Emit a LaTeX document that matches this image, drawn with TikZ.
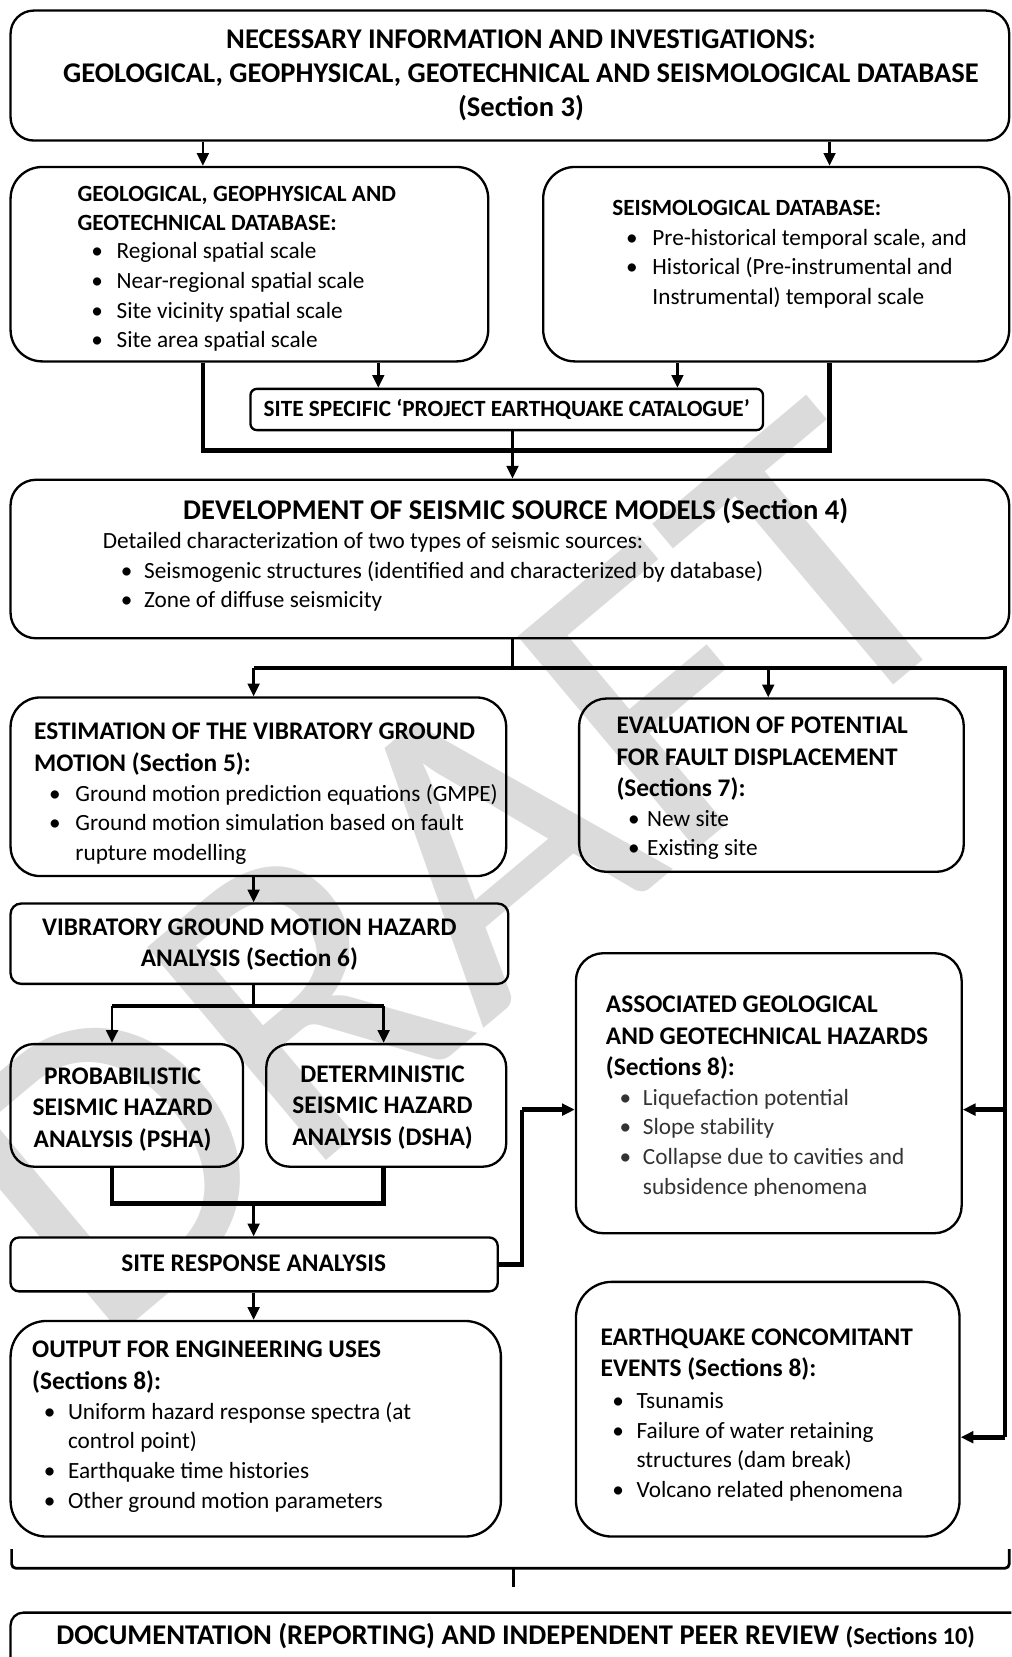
\documentclass[tikz,border=0pt]{standalone}
\usepackage{fontspec}
\setmainfont{Carlito}
\usetikzlibrary{arrows.meta,fit}

\newcommand{\llines}[1]{\begin{tabular}[t]{@{}l@{}}#1\end{tabular}}
\newcommand{\clines}[1]{\begin{tabular}[t]{@{}c@{}}#1\end{tabular}}
\newcommand{\blist}[2]{\begin{tabular}[t]{@{}p{#1}@{}l@{}}#2\end{tabular}}

\tikzset{
        box/.style={draw=black, line width=1.1pt, inner sep=0pt},
        wbox/.style={box, fill=white},
        txt/.style={anchor=base west, inner sep=0pt},
        ctxt/.style={anchor=base, inner sep=0pt},
        hdbig/.style={font=\fontsize{13.5}{16}\selectfont\bfseries},
        hd/.style={font=\fontsize{12}{15}\selectfont\bfseries},
        hdsmall/.style={font=\fontsize{11}{13.5}\selectfont\bfseries},
        body/.style={font=\fontsize{11}{14}\selectfont},
        arr/.style={line width=1.3pt, -{Triangle[length=6pt,width=5.5pt]}},
        barr/.style={line width=2.2pt, -{Triangle[length=6pt,width=5.5pt]}},
        link/.style={line width=1.3pt},
        bus/.style={line width=2.2pt},
        brace/.style={line width=1.3pt, rounded corners=2pt},
        wmark/.style={text=black!14, font=\fontsize{205}{205}\selectfont, inner sep=0pt}
          }

\begin{document}
\begin{tikzpicture}[x=0.5pt, y=-0.5pt]
  \useasboundingbox (0,0) rectangle (957,1568);
  \clip (0,0) rectangle (957,1568);

  % watermark
  \node[wmark, rotate=40] (wm) at (430,825) {DRAFT};

  % columns and levels of the connectors
  \coordinate (xa) at (192,0);
  \coordinate (xb) at (785,0);
  \coordinate (xc) at (358,0);
  \coordinate (xd) at (641,0);
  \coordinate (xe) at (485,0);
  \coordinate (xf) at (240,0);
  \coordinate (xg) at (727,0);
  \coordinate (xh) at (106,0);
  \coordinate (xi) at (363,0);
  \coordinate (xk) at (494,0);
  \coordinate (xr) at (951,0);
  \coordinate (ya) at (0,426);
  \coordinate (yb) at (0,632);
  \coordinate (yc) at (0,952);
  \coordinate (yd) at (0,1139);
  \coordinate (ye) at (0,1050);
  \coordinate (yf) at (0,1360);

  % boxes
  \node[box, rounded corners=11pt, fit={(10,10) (955,133)}] (top) {};
  \node[box, rounded corners=15pt, fit={(10,158) (462,342)}] (ggg) {};
  \node[box, rounded corners=15pt, fit={(514,158) (955,342)}] (seis) {};
  \node[wbox, rounded corners=3pt, fit={(237,368) (722,407)}] (cat) {};
  \node[box, rounded corners=12pt, fit={(10,454) (955,604)}] (dev) {};
  \node[box, rounded corners=14pt, fit={(10,660) (479,829)}] (est) {};
  \node[box, rounded corners=13pt, fit={(548,661) (912,825)}] (eval) {};
  \node[box, rounded corners=5pt, fit={(10,855) (481,931)}] (vgm) {};
  \node[box, rounded corners=11pt, fit={(10,988) (230,1104)}] (psha) {};
  \node[box, rounded corners=11pt, fit={(252,988) (479,1104)}] (dsha) {};
  \node[wbox, rounded corners=4pt, fit={(10,1171) (471,1222)}] (sra) {};
  \node[box, rounded corners=13pt, fit={(545,902) (910,1167)}] (assoc) {};
  \node[wbox, rounded corners=17pt, fit={(10,1250) (474,1454)}] (out) {};
  \node[box, rounded corners=17pt, fit={(545,1213) (908,1454)}] (conc) {};
  \node[box, rounded corners=6pt, fit={(10,1526) (985,1620)}] (doc) {};

  % texts
  \node[ctxt, hdbig] (topT) at (493,46) {\clines{NECESSARY INFORMATION AND INVESTIGATIONS:\\GEOLOGICAL, GEOPHYSICAL, GEOTECHNICAL AND SEISMOLOGICAL DATABASE\\(Section 3)}};

  \node[txt, hdsmall] (gggT) at (73,191) {\llines{GEOLOGICAL, GEOPHYSICAL AND\\GEOTECHNICAL DATABASE:}};
  \node[txt, body] (gggL) at (86,245) {\blist{12pt}{\textbullet & Regional spatial scale\\
    \textbullet & Near-regional spatial scale\\
    \textbullet & Site vicinity spatial scale\\
    \textbullet & Site area spatial scale}};

  \node[txt, hdsmall] (seisT) at (579,204) {SEISMOLOGICAL DATABASE:};
  \node[txt, body] (seisL) at (592,232) {\blist{12.5pt}{\textbullet & Pre-historical temporal scale, and\\
    \textbullet & Historical (Pre-instrumental and\\
    & Instrumental) temporal scale}};

  \node[ctxt, hdsmall] (catT) at (479.5,394) {SITE SPECIFIC ‘PROJECT EARTHQUAKE CATALOGUE’};

  \node[ctxt, hdbig] (devT) at (488,492) {DEVELOPMENT OF SEISMIC SOURCE MODELS (Section 4)};
  \node[txt, body] (devS) at (97,519) {Detailed characterization of two types of seismic sources:};
  \node[txt, body] (devL) at (114,547) {\blist{11pt}{\textbullet & Seismogenic structures (identified and characterized by database)\\
    \textbullet & Zone of diffuse seismicity}};

  \node[txt, hd] (estT) at (32,700) {\llines{ESTIMATION OF THE VIBRATORY GROUND\\MOTION (Section 5):}};
  \node[txt, body] (estL) at (46,758) {\blist{12.5pt}{\textbullet & Ground motion prediction equations (GMPE)\\
    \textbullet & Ground motion simulation based on fault\\
    & rupture modelling}};

  \node[txt, hd] (evalT) at (583,694) {\llines{EVALUATION OF POTENTIAL\\FOR FAULT DISPLACEMENT\\(Sections 7):}};
  \node[txt, body] (evalL) at (594,782) {\blist{9pt}{\textbullet & New site\\
    \textbullet & Existing site}};

  \node[ctxt, hd] (vgmT) at (236,885) {\clines{VIBRATORY GROUND MOTION HAZARD\\ANALYSIS (Section 6)}};
  \node[ctxt, hd] (pshaT) at (116,1026) {\clines{PROBABILISTIC\\SEISMIC HAZARD\\ANALYSIS (PSHA)}};
  \node[ctxt, hd] (dshaT) at (362,1024) {\clines{DETERMINISTIC\\SEISMIC HAZARD\\ANALYSIS (DSHA)}};
  \node[ctxt, hd] (sraT) at (240,1203) {SITE RESPONSE ANALYSIS};

  \node[txt, hd] (assocT) at (573,958) {\llines{ASSOCIATED GEOLOGICAL\\AND GEOTECHNICAL HAZARDS\\(Sections 8):}};
  \begin{scope}
    \clip (540,890) rectangle (915,1131);
    \node[txt, body, text=black!80] (assocL) at (586,1046) {\blist{11pt}{\textbullet & Liquefaction potential\\
      \textbullet & Slope stability\\
      \textbullet & Collapse due to cavities and\\
      & subsidence phenomena}};
  \end{scope}

  \node[txt, hd] (outT) at (30,1285) {\llines{OUTPUT FOR ENGINEERING USES\\(Sections 8):}};
  \node[txt, body] (outL) at (41,1343) {\blist{11.5pt}{\textbullet & Uniform hazard response spectra (at\\
    & control point)\\
    \textbullet & Earthquake time histories\\
    \textbullet & Other ground motion parameters}};

  \node[txt, hd] (concT) at (568,1273) {\llines{EARTHQUAKE CONCOMITANT\\EVENTS (Sections 8):}};
  \node[txt, body] (concL) at (579,1333) {\blist{11.5pt}{\textbullet & Tsunamis\\
    \textbullet & Failure of water retaining\\
    & structures (dam break)\\
    \textbullet & Volcano related phenomena}};

  \node[ctxt, hdbig] (docT) at (488,1556) {DOCUMENTATION (REPORTING) AND INDEPENDENT PEER REVIEW {\fontsize{11.5}{14}\selectfont(Sections 10)}};

  % connectors
  \draw[arr] (top.south -| xa) -- (ggg.north -| xa);
  \draw[arr] (top.south -| xb) -- (seis.north -| xb);
  \draw[arr] (ggg.south -| xc) -- (cat.north -| xc);
  \draw[arr] (seis.south -| xd) -- (cat.north -| xd);
  \draw[bus] (ggg.south -| xa) -- (xa |- ya) -- (xb |- ya) -- (seis.south -| xb);
  \draw[arr] (cat.south -| xe) -- (dev.north -| xe);

  \draw[link] (dev.south -| xe) -- (xe |- yb);
  \draw[bus] (xf |- yb) -- (xr |- yb) -- (xr |- yf);
  \draw[arr] (xf |- yb) -- (est.north -| xf);
  \draw[arr] (xg |- yb) -- (eval.north -| xg);
  \draw[barr] (xr |- ye) -- (assoc.east |- ye);
  \draw[barr] (xr |- yf) -- (conc.east |- yf);

  \draw[arr] (est.south -| xf) -- (vgm.north -| xf);
  \draw[link] (vgm.south -| xf) -- (xf |- yc);
  \draw[bus] (xh |- yc) -- (xi |- yc);
  \draw[arr] (xh |- yc) -- (psha.north -| xh);
  \draw[arr] (xi |- yc) -- (dsha.north -| xi);
  \draw[bus] (psha.south -| xh) -- (xh |- yd) -- (xi |- yd) -- (dsha.south -| xi);
  \draw[arr] (xf |- yd) -- (sra.north -| xf);

  \draw[bus] (sra.east) -- (xk |- sra.east) -- (xk |- ye);
  \draw[barr] (xk |- ye) -- (assoc.west |- ye);
  \draw[arr] (sra.south -| xf) -- (out.north -| xf);

  % bracket above the last box
  \coordinate (brL) at (11,1466);
  \coordinate (brR) at (955,1466);
  \coordinate (brM) at (486,1502);
  \coordinate (brY) at (0,1484);
  \draw[brace] (brL) -- (brL |- brY) -- (brR |- brY) -- (brR);
  \draw[link] (brM |- brY) -- (brM);
\end{tikzpicture}
\end{document}
